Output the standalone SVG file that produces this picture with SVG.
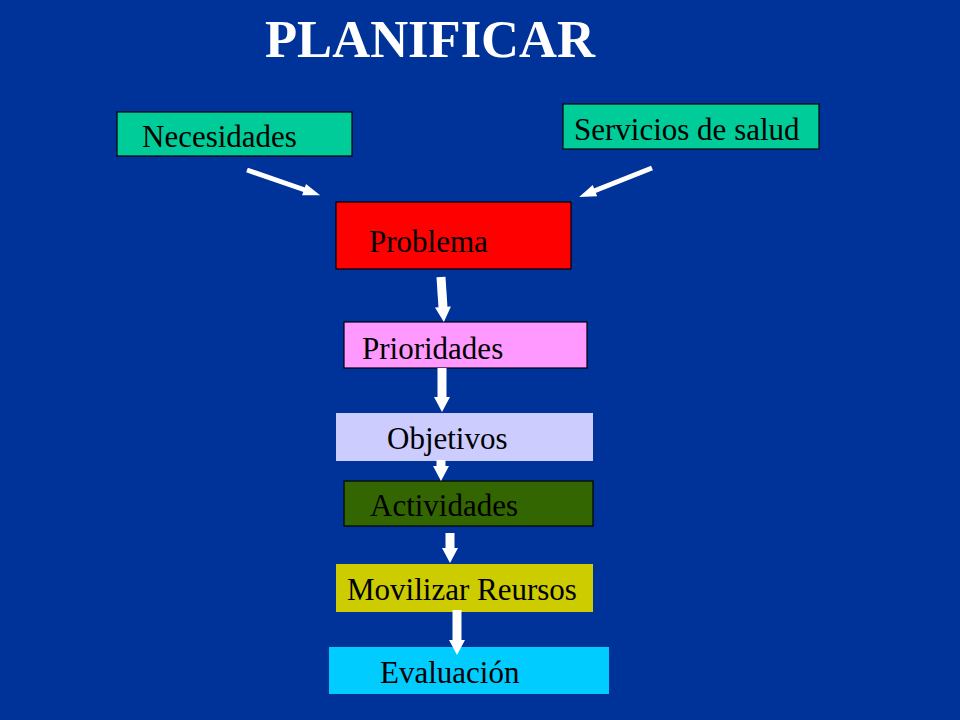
<svg xmlns="http://www.w3.org/2000/svg" width="960" height="720" viewBox="0 0 960 720">
  <style>
    .lbl { font-family: "Liberation Serif", "Times New Roman", serif; font-size: 31px; fill: #000; }
    .title { font-family: "Liberation Serif", "Times New Roman", serif; font-size: 52px; font-weight: bold; fill: #fff; }
    .box { stroke: #000; stroke-width: 1.2; }
    .arrow { stroke: #fff; fill: none; }
    .down { stroke-width: 9; marker-end: url(#headBig); }
    .diag { stroke-width: 5; marker-end: url(#headSmall); }
  </style>
  <defs>
    <marker id="headBig" markerUnits="userSpaceOnUse" markerWidth="16" markerHeight="18" viewBox="0 0 15 18" refX="1" refY="9" orient="auto">
      <path d="M0,1 L15,9 L0,17 z" fill="#fff"/>
    </marker>
    <marker id="headSmall" markerUnits="userSpaceOnUse" markerWidth="18" markerHeight="14" viewBox="0 0 17 14" refX="1" refY="7" orient="auto">
      <path d="M0,1 L17,7 L0,13 z" fill="#fff"/>
    </marker>
  </defs>
  <rect x="0" y="0" width="960" height="720" fill="#003399"/>
  <text class="title" x="265" y="57" textLength="330" lengthAdjust="spacingAndGlyphs">PLANIFICAR</text>

  <g id="necesidades">
    <rect class="box" x="117" y="112" width="235" height="44" fill="#00CC99"/>
    <text class="lbl" x="142" y="147">Necesidades</text>
  </g>
  <g id="servicios">
    <rect class="box" x="563" y="104" width="256" height="45" fill="#00CC99"/>
    <text class="lbl" x="574" y="140">Servicios de salud</text>
  </g>
  <g id="problema">
    <rect class="box" x="336" y="202" width="235" height="67" fill="#FF0000"/>
    <text class="lbl" x="369" y="252">Problema</text>
  </g>
  <g id="prioridades">
    <rect class="box" x="344" y="322" width="243" height="46" fill="#FF99FF"/>
    <text class="lbl" x="362" y="359">Prioridades</text>
  </g>
  <g id="objetivos">
    <rect x="336" y="413" width="257" height="48" fill="#CCCCFF"/>
    <text class="lbl" x="387" y="449">Objetivos</text>
  </g>
  <g id="actividades">
    <rect class="box" x="344" y="481" width="249" height="45" fill="#336600"/>
    <text class="lbl" x="370" y="516">Actividades</text>
  </g>
  <g id="movilizar">
    <rect x="336" y="564" width="257" height="48" fill="#CCCC00"/>
    <text class="lbl" x="347" y="600">Movilizar Reursos</text>
  </g>
  <g id="evaluacion">
    <rect x="329" y="647" width="280" height="47" fill="#00CCFF"/>
    <text class="lbl" x="380" y="683">Evaluación</text>
  </g>

  <g id="connectors">
    <line class="arrow diag" x1="247" y1="170" x2="305" y2="190"/>
    <line class="arrow diag" x1="652" y1="168" x2="594" y2="191"/>
    <line class="arrow down" x1="441" y1="277" x2="443" y2="308"/>
    <line class="arrow down" x1="442" y1="368" x2="442" y2="398"/>
    <line class="arrow down" x1="441" y1="460" x2="441" y2="467"/>
    <line class="arrow down" x1="450" y1="533" x2="450" y2="549"/>
    <line class="arrow down" x1="457" y1="610" x2="457" y2="641"/>
  </g>
</svg>
